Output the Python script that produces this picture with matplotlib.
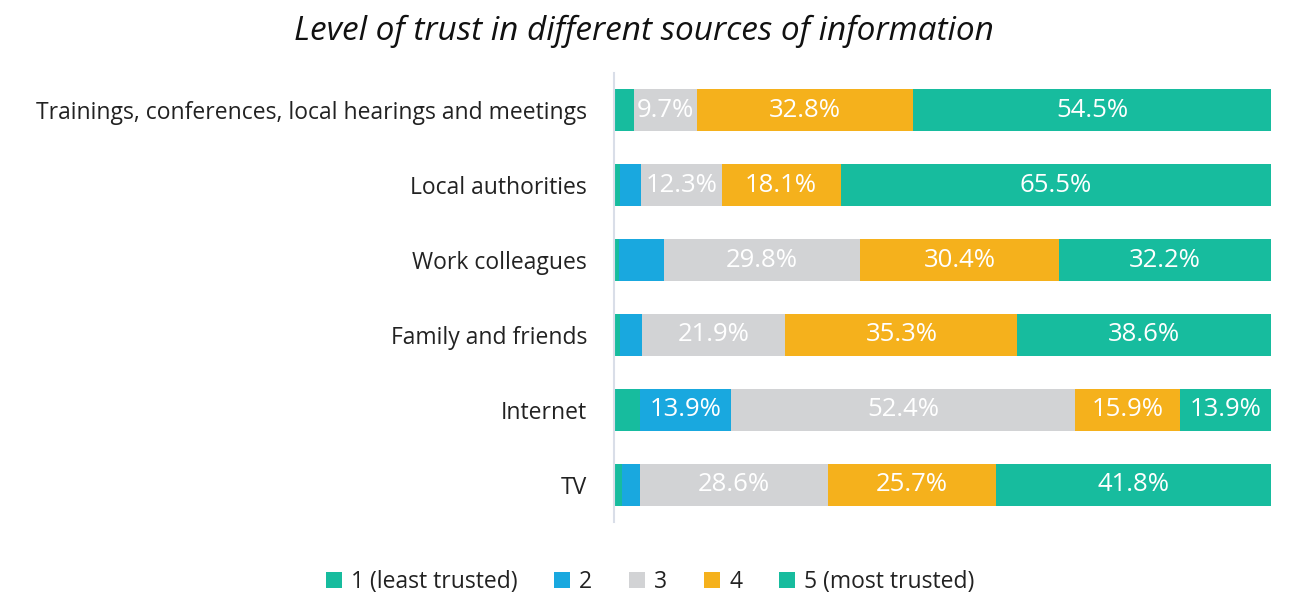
import matplotlib.pyplot as plt
import numpy as np

plt.rcParams['font.family'] = ['Open Sans', 'DejaVu Sans']

# Share of respondents per trust level (%), top row first
sources = ['Trainings, conferences, local hearings and meetings', 'Local authorities',
           'Work colleagues', 'Family and friends', 'Internet', 'TV']
level1 = [3.0, 0.9, 0.8, 0.9, 3.9, 1.2]
level2 = [0.0, 3.2, 6.8, 3.3, 13.9, 2.7]
level3 = [9.7, 12.3, 29.8, 21.9, 52.4, 28.6]
level4 = [32.8, 18.1, 30.4, 35.3, 15.9, 25.7]
level5 = [54.5, 65.5, 32.2, 38.6, 13.9, 41.8]

levels = [level1, level2, level3, level4, level5]
names = ['1 (least trusted)', '2', '3', '4', '5 (most trusted)']
colors = ['#17BC9E', '#19A8DF', '#D2D3D5', '#F5B11C', '#17BC9E']

fig = plt.figure(figsize=(13, 5.95), dpi=100)
ax = fig.add_axes([0.4723, 0.1227, 0.5054, 0.7546])

y = np.arange(len(sources))
left = np.zeros(len(sources))
for vals, name, col in zip(levels, names, colors):
    vals = np.array(vals)
    ax.barh(y, vals, left=left, height=0.56, color=col, label=name)
    for yi, v, l in zip(y, vals, left):
        if v >= 9:
            ax.text(l + v / 2, yi, f'{v:.1f}%', ha='center', va='center',
                    color='white', fontsize=18.5)
    left += vals

ax.set_xlim(0, 100)
ax.set_ylim(len(sources) - 0.5, -0.5)
ax.set_yticks(y)
ax.set_yticklabels(sources, fontsize=16.5, color='#222222')
ax.tick_params(axis='y', length=0, pad=19.5)
ax.set_xticks([])
for s in ['top', 'right', 'bottom']:
    ax.spines[s].set_visible(False)
ax.spines['left'].set_color('#D9DEE8')
ax.spines['left'].set_linewidth(1.5)

fig.text(0.495, 0.948, 'Level of trust in different sources of information',
         ha='center', va='center', fontsize=24, style='italic', color='#111111')

fig.legend(loc='center', bbox_to_anchor=(0.5, 0.022), ncol=5, frameon=False,
           fontsize=16.5, handlelength=0.7, handleheight=0.7, handletextpad=0.4,
           columnspacing=1.6, labelcolor='#222222')

plt.savefig('out.png', dpi=100)
